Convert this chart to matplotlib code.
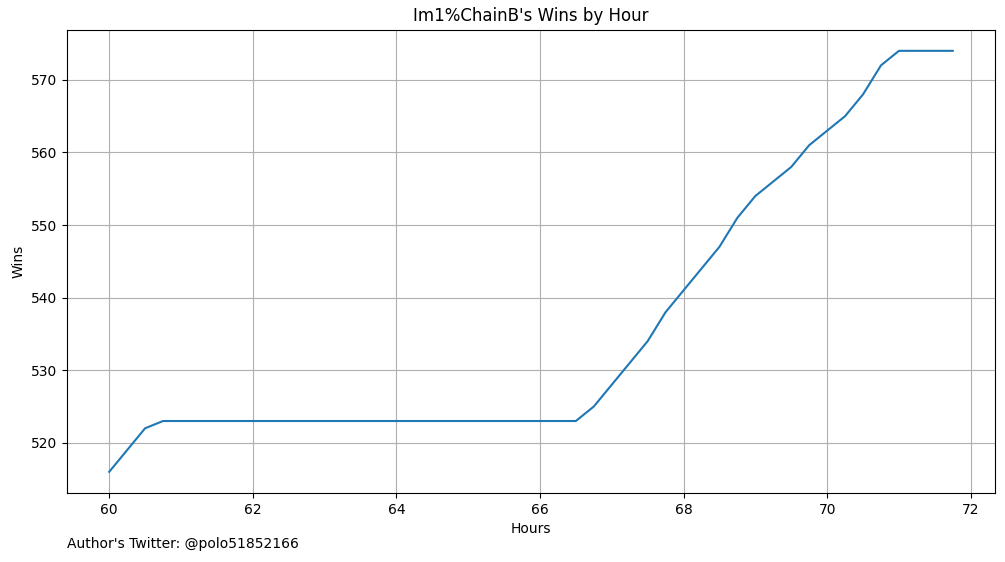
import matplotlib
matplotlib.use("Agg")
import matplotlib.pyplot as plt

hours = [60 + 0.25 * i for i in range(48)]
wins = [516, 519, 522] + [523] * 24 + [525, 528, 531, 534, 538, 541, 544, 547,
        551, 554, 556, 558, 561, 563, 565, 568, 572, 574, 574, 574, 574]

fig = plt.figure(figsize=(10.05, 5.62), dpi=100)
ax = fig.add_axes([0.0667, 0.123, 0.9233, 0.824])
ax.plot(hours, wins)
ax.set_title("Im1%ChainB's Wins by Hour")
ax.set_xlabel("Hours")
ax.set_ylabel("Wins")
ax.grid(True)
fig.text(0.0667, 0.025, "Author's Twitter: @polo51852166")
fig.savefig("out.png", dpi=100)
